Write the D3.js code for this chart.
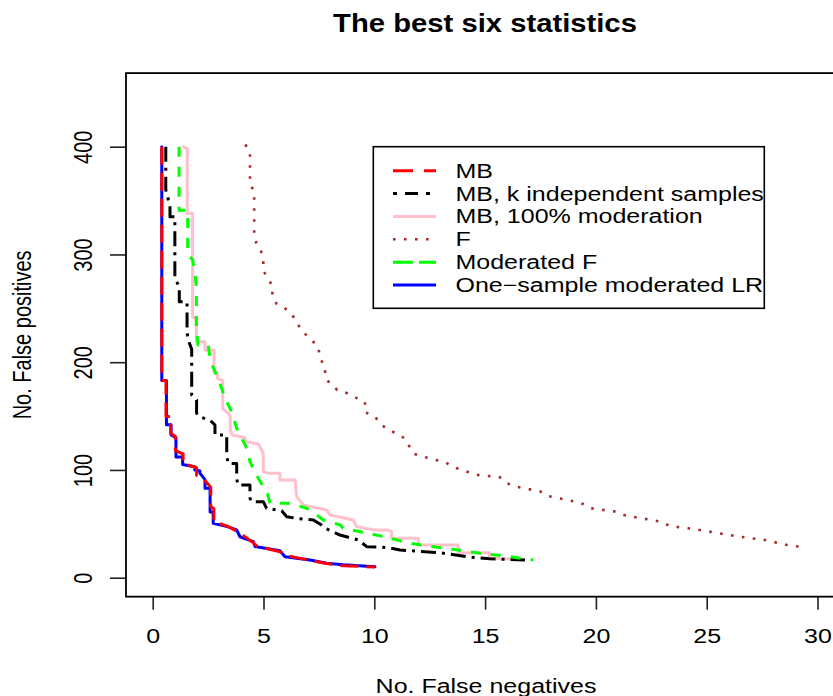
<!DOCTYPE html>
<html>
<head>
<meta charset="utf-8">
<script src="https://cdn.jsdelivr.net/npm/d3@7"></script>
<style>
  body { margin: 0; background: #fff; }
  svg { display: block; }
  text { font-family: "Liberation Sans", Arial, Helvetica, sans-serif; fill: #000; }
</style>
</head>
<body>
<svg id="chart" width="833" height="696"></svg>
<script>
// ---- data (No. false negatives, No. false positives) ----
const xTicks = [0, 5, 10, 15, 20, 25, 30];
const yTicks = [0, 100, 200, 300, 400];

const seriesNames = [
  "MB",
  "MB, k independent samples",
  "MB, 100% moderation",
  "F",
  "Moderated F",
  "One\u2212sample moderated LR",
];

const mbPoints = [[0.41,400],[0.41,183],[0.6,183],[0.6,149.5],[0.81,149.5],[0.81,134],[1.02,131],[1.02,118],[1.37,115],[1.37,106],[1.98,102],[1.98,95],[2.2,93],[2.45,88],[2.62,84],[2.62,66],[2.76,64],[2.76,52],[3.4,47.5],[3.9,42],[4.5,33],[4.7,29.5],[5.75,24],[6.0,20.5],[6.9,17],[7.9,13],[8.6,11],[10.03,10]];

const mbKPoints = [[0.59,400],[0.59,360],[0.78,345],[0.78,335],[1.0,335],[1.0,278],[1.2,270],[1.2,256],[1.55,256],[1.55,227],[1.65,218],[1.76,212],[1.76,169.5],[1.98,165],[1.98,152.6],[2.1,149.5],[2.6,146],[2.81,141.7],[2.81,132.5],[3.34,132.5],[3.34,114],[3.4,106],[3.79,106],[3.79,92],[3.85,86],[4.39,86],[4.39,74],[4.45,70.6],[4.99,70.6],[5.14,64.4],[5.82,62.2],[6.05,56.6],[6.5,55],[7.25,53.6],[7.55,49.9],[7.78,45.9],[8.45,39.6],[8.83,37.5],[9.28,35],[9.66,28.8],[10.1,28.6],[10.63,27.9],[11.16,25.7],[12.96,23.2],[14.17,19.5],[15.2,17.6],[16.8,16.4]];

const mbModPoints = [[1.38,400],[1.56,398],[1.56,338],[1.8,338],[1.8,242],[1.97,240],[1.97,219],[2.36,219],[2.36,211],[2.77,211],[2.77,191],[2.92,189],[2.92,185],[3.16,183],[3.16,157],[3.41,152.6],[3.5,149.5],[3.5,137],[3.6,132.5],[4.16,130],[4.2,126.3],[4.77,124],[4.99,115.5],[4.99,98.4],[5.2,97],[5.74,97],[5.74,90.7],[6.42,90.7],[6.5,75],[6.8,67.5],[7.85,62.9],[8.0,58.2],[9.05,53.6],[9.2,47.4],[10.0,44.3],[10.6,44.3],[10.78,42.7],[10.78,36.5],[11.99,36.5],[11.99,30.4],[13.79,30.4],[13.79,23.2],[15.2,23.2],[15.2,18],[16.42,17]];

const fPoints = [[4.18,402],[4.39,395],[4.39,365.6],[4.58,358.4],[4.58,319],[4.68,310.5],[4.89,303],[4.99,295],[4.99,285],[5.19,278],[5.4,271],[5.4,261.6],[5.6,254],[5.98,249.8],[6.29,244],[6.5,237.4],[6.69,230],[7.47,214.5],[7.56,203],[7.78,196],[7.78,186.6],[8.0,180],[8.33,174.3],[8.75,171.5],[9.21,166.6],[9.58,162.9],[9.58,153.6],[10.03,149.5],[10.26,143.4],[10.56,137.8],[11.01,134],[11.39,129],[11.58,122],[11.79,115],[12.27,112],[13.24,106.8],[13.6,102.5],[14.58,95.6],[15.67,93.2],[15.99,87.6],[16.45,84.2],[17.48,80.2],[17.87,75.6],[18.86,71.5],[19.39,68.7],[19.79,64.4],[20.89,61.3],[21.35,57.6],[22.95,52],[23.33,48],[24.41,45.2],[26.5,38],[27.62,35],[28.62,30.4],[29.18,28.8]];

const modFPoints = [[1.19,400],[1.19,341],[1.58,341],[1.58,300],[1.8,295],[1.9,284],[1.97,270],[1.97,230],[2.05,216],[2.5,216],[2.62,200.5],[3.0,182],[3.3,165],[3.56,154],[3.79,138.7],[4.21,121.6],[4.39,107.7],[4.77,92],[5.17,78.4],[5.3,69],[6.2,69],[6.95,64.4],[7.3,60],[7.7,53.6],[8.45,49],[8.6,45.9],[9.5,42.1],[10.56,37.5],[11.6,32],[12.66,28.8],[13.79,25.7],[14.77,22.6],[15.9,20.1],[17.18,16.4]];

const oneSamplePoints = [[0.41,400],[0.41,183],[0.62,183],[0.62,142],[0.83,142],[0.83,132.5],[1.05,130],[1.05,112],[1.35,112],[1.35,105],[1.9,103],[1.9,100],[2.13,99],[2.13,97],[2.36,91],[2.36,83],[2.59,83],[2.59,61],[2.73,61],[2.73,50.5],[3.37,47.4],[3.79,44.3],[3.94,38],[4.54,33.4],[4.62,29],[5.74,25],[5.97,19.5],[7.1,16.4],[7.85,13.4],[8.6,12],[10.03,10.2]];

// ---- styles ----
const seriesData = [mbPoints, mbKPoints, mbModPoints, fPoints, modFPoints, oneSamplePoints];
const colors = ["#ff0000", "#000000", "#ffc0cb", "#a52a2a", "#00ff00", "#0000ff"];
const dashes = ["18 8", "15 6 3 6", null, "2.6 8.4", "10 10", null];
const legendDashes = ["20 11", "4 8 13 8", null, "2.6 8.4", "20 6", null];
const drawOrder = [5, 2, 1, 4, 0, 3];

const sx = 1.25; // horizontal stretch of the original raster
const fontSize = 20;

const svg = d3.select("#chart");

const x = d3.scaleLinear().domain([0, 30]).range([152.7, 817.5]);
const y = d3.scaleLinear().domain([0, 400]).range([577.7, 146.7]);

const boxLeft = x(-1.205), boxRight = x(31.3), boxTop = y(468.3), boxBottom = y(-17.6);

// lines
const line = d3.line().x((d) => x(d[0])).y((d) => y(d[1]));
const lines = svg.append("g");
drawOrder.forEach((i) => {
  lines.append("path")
    .datum(seriesData[i])
    .attr("d", line)
    .attr("fill", "none")
    .attr("stroke", colors[i])
    .attr("stroke-width", i === 3 ? 2.6 : 3)
    .attr("stroke-dasharray", dashes[i])
    .attr("stroke-linecap", dashes[i] ? "butt" : "round")
    .attr("stroke-linejoin", "round");
});

// axes
const xAxis = svg.append("g")
  .attr("transform", `translate(0,${boxBottom})`)
  .call(d3.axisBottom(x).tickValues(xTicks).tickSize(13).tickFormat(d3.format("d")));
xAxis.select(".domain").remove();
xAxis.selectAll(".tick line").attr("stroke", "#222").attr("stroke-width", 1.6);
xAxis.selectAll(".tick text")
  .attr("y", null).attr("dy", null)
  .attr("font-size", fontSize)
  .attr("transform", `translate(0,${643 - boxBottom}) scale(${sx},1)`);

const yAxis = svg.append("g")
  .attr("transform", `translate(${boxLeft},0)`)
  .call(d3.axisLeft(y).tickValues(yTicks).tickSize(16).tickFormat(d3.format("d")));
yAxis.select(".domain").remove();
yAxis.selectAll(".tick line").attr("stroke", "#222").attr("stroke-width", 1.6);
yAxis.selectAll(".tick text")
  .attr("x", null).attr("dy", null)
  .attr("text-anchor", "middle")
  .attr("font-size", fontSize)
  .attr("transform", `translate(${92 - boxLeft},0) scale(${sx},1) rotate(-90)`);

// plot box
svg.append("rect")
  .attr("x", boxLeft).attr("y", boxTop)
  .attr("width", boxRight - boxLeft).attr("height", boxBottom - boxTop)
  .attr("fill", "none").attr("stroke", "#000").attr("stroke-width", 1.8);

// titles
svg.append("text")
  .attr("transform", `translate(485,32) scale(1.17,1)`)
  .attr("text-anchor", "middle")
  .attr("font-weight", "bold")
  .attr("font-size", 25)
  .text("The best six statistics");

svg.append("text")
  .attr("transform", `translate(486,693) scale(${sx},1)`)
  .attr("text-anchor", "middle")
  .attr("font-size", fontSize)
  .text("No. False negatives");

svg.append("text")
  .attr("transform", `translate(31,${(boxTop + boxBottom) / 2}) scale(${sx},1) rotate(-90)`)
  .attr("text-anchor", "middle")
  .attr("font-size", fontSize)
  .text("No. False positives");

// legend
const legend = svg.append("g");
legend.append("rect")
  .attr("x", 373.3).attr("y", 146.7)
  .attr("width", 391).attr("height", 161.6)
  .attr("fill", "#fff").attr("stroke", "#000").attr("stroke-width", 1.6);

const rowY = d3.scaleLinear().domain([0, 5]).range([170.7, 285]);
seriesNames.forEach((name, i) => {
  const ry = rowY(i);
  legend.append("line")
    .attr("x1", 393).attr("x2", 436)
    .attr("y1", ry).attr("y2", ry)
    .attr("stroke", colors[i])
    .attr("stroke-width", i === 3 ? 2.6 : 3)
    .attr("stroke-dasharray", legendDashes[i]);
  legend.append("text")
    .attr("transform", `translate(455.5,${ry + 7}) scale(${sx},1)`)
    .attr("font-size", fontSize)
    .text(name);
});
</script>
</body>
</html>
